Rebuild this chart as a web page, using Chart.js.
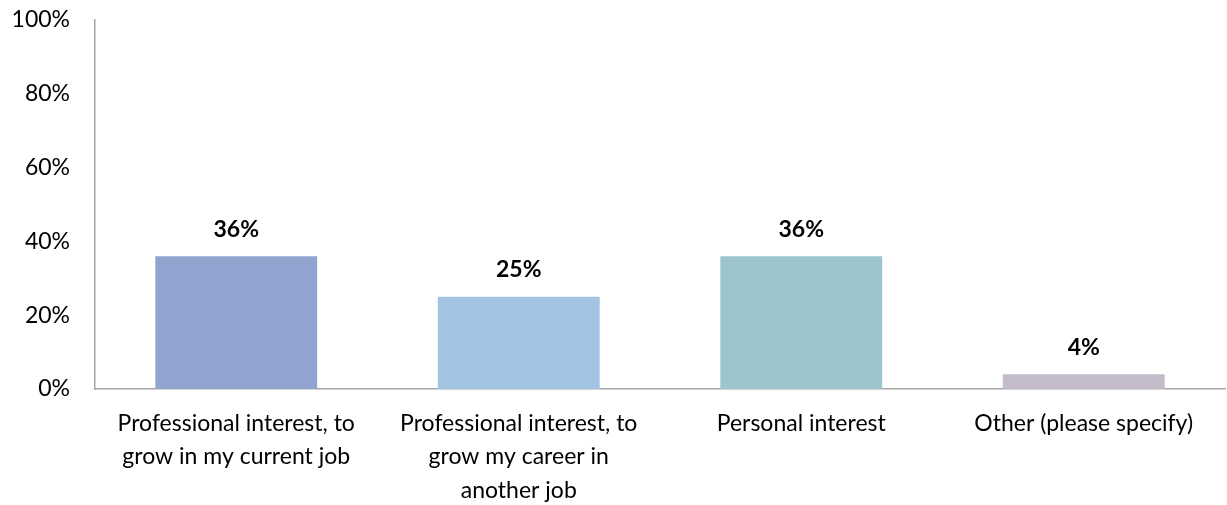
<!DOCTYPE html>
<html>
<head>
<meta charset="utf-8">
<script src="https://cdn.jsdelivr.net/npm/chart.js@4/dist/chart.umd.min.js"></script>
<style>
  html, body { margin: 0; padding: 0; background: #fff; }
  #wrap { width: 1227px; height: 505px; }
</style>
</head>
<body>
<div id="wrap"><canvas id="chart" width="1227" height="505"></canvas></div>
<script>
// categories and values
const categories = [
    ['Professional interest, to', 'grow in my current job'],
    ['Professional interest, to', 'grow my career in', 'another job'],
    'Personal interest',
    'Other (please specify)'
];
const values = [36, 25, 36, 4];
const barColors = ['#91A4D0', '#A2C4E2', '#9DC5CD', '#C3BBCA'];
const yTicks = [0, 20, 40, 60, 80, 100];

const fontFamily = 'Lato, "Open Sans", sans-serif';
const axisColor = '#A6A6A6';

// draws the bold % labels above each bar
const valueLabels = {
    id: 'valueLabels',
    afterDatasetsDraw(chart) {
        const ctx = chart.ctx;
        const meta = chart.getDatasetMeta(0);
        ctx.save();
        ctx.font = 'bold 23px ' + fontFamily;
        ctx.fillStyle = '#000';
        ctx.textAlign = 'center';
        ctx.textBaseline = 'middle';
        meta.data.forEach((bar, i) => {
            ctx.fillText(values[i] + '%', bar.x, bar.y - 27);
        });
        ctx.restore();
    }
};

new Chart(document.getElementById('chart'), {
    type: 'bar',
    data: {
        labels: categories,
        datasets: [{
            data: values,
            backgroundColor: barColors,
            borderWidth: 0,
            categoryPercentage: 1,
            barPercentage: 0.573
        }]
    },
    options: {
        responsive: false,
        animation: false,
        layout: { padding: { top: 20, right: 2, left: 0, bottom: 0 } },
        plugins: {
            legend: { display: false },
            tooltip: { enabled: false }
        },
        scales: {
            x: {
                grid: { display: false, drawTicks: false },
                border: { display: true, color: axisColor, width: 1.5 },
                ticks: {
                    color: '#000',
                    padding: 18,
                    maxRotation: 0,
                    autoSkip: false,
                    font: { family: fontFamily, size: 23, lineHeight: 1.45 }
                },
                afterFit(scale) { scale.height = 116; }
            },
            y: {
                min: 0,
                max: 100,
                grid: { display: false, drawTicks: false },
                border: { display: true, color: axisColor, width: 1.5 },
                afterBuildTicks(scale) {
                    scale.ticks = yTicks.map(v => ({ value: v }));
                },
                ticks: {
                    color: '#000',
                    padding: 25,
                    font: { family: fontFamily, size: 23 },
                    callback: v => v + '%'
                },
                afterFit(scale) {
                    scale.width = 95;
                    // keep the plot top at the layout padding, not below the label overflow
                    scale.paddingTop = 0;
                }
            }
        }
    },
    plugins: [valueLabels]
});
</script>
</body>
</html>
